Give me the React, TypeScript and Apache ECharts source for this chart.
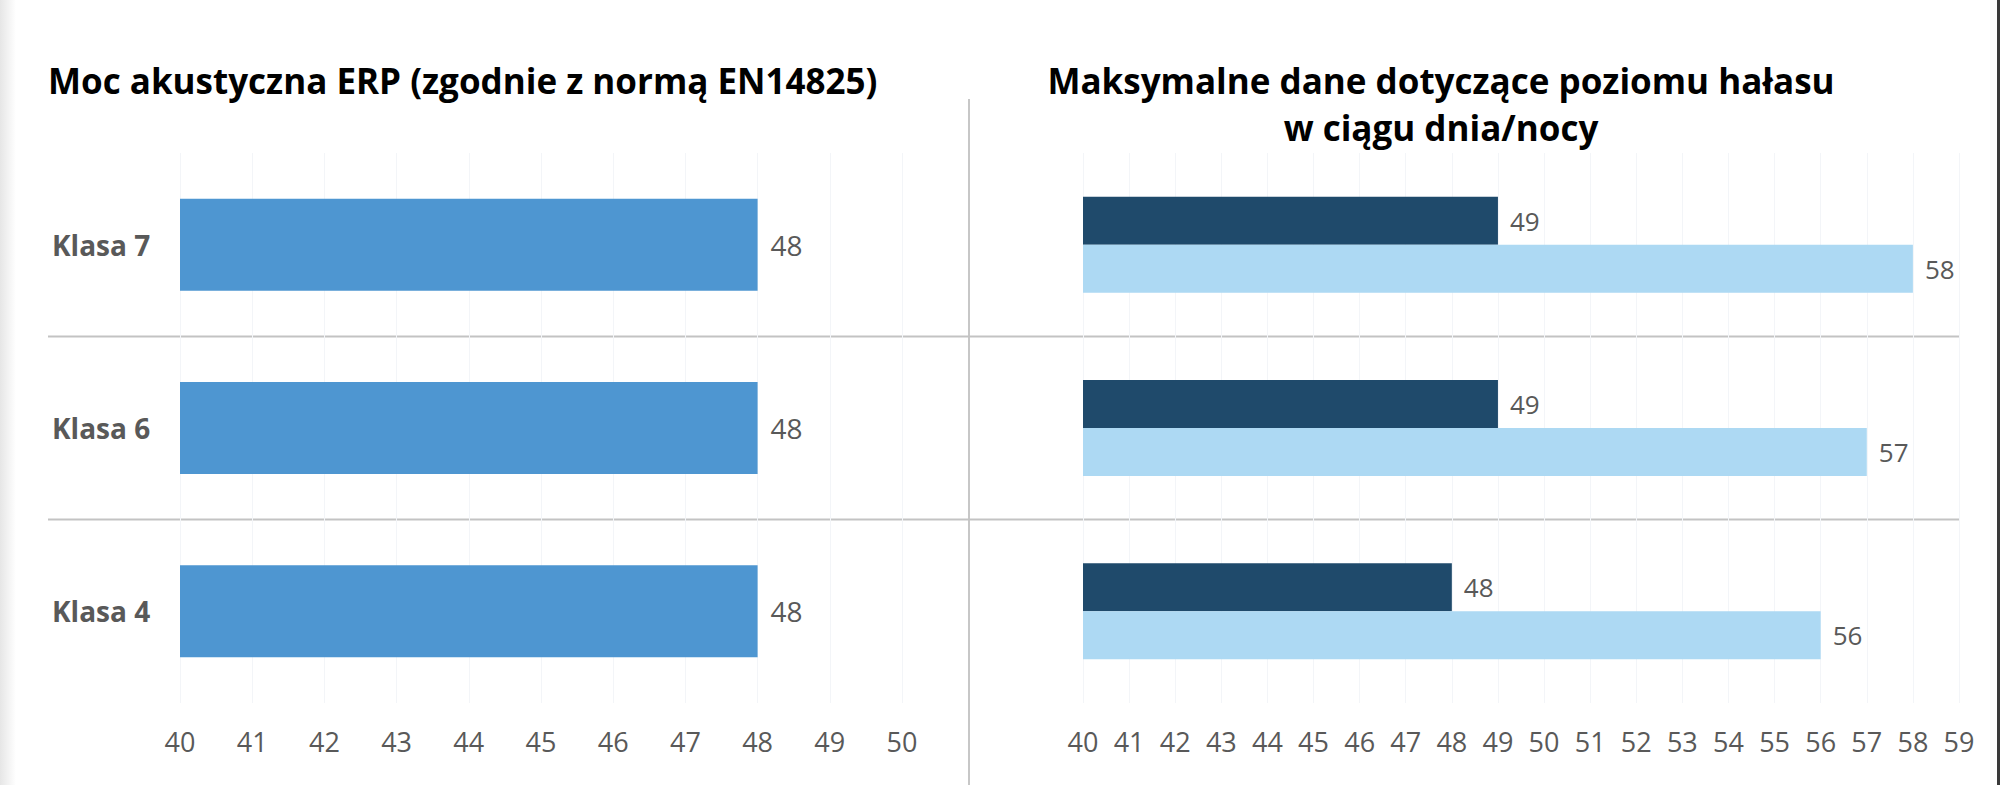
import React, { useEffect, useRef } from 'react';
import * as echarts from 'echarts';

const categories = ['Klasa 7', 'Klasa 6', 'Klasa 4'];
const erpPower = [48, 48, 48];
const noiseNight = [49, 49, 48];
const noiseDay = [58, 57, 56];
const leftAxisRange = [40, 50];
const rightAxisRange = [40, 59];
const leftTitle = 'Moc akustyczna ERP (zgodnie z normą EN14825)';
const rightTitle = 'Maksymalne dane dotyczące poziomu hałasu\nw ciągu dnia/nocy';

const FONT = '"Open Sans", "Noto Sans", sans-serif';
const GRAY = '#595959';

export default function App() {
  const ref = useRef<HTMLDivElement>(null);
  useEffect(() => {
    if (!ref.current) return;
    const chart = echarts.init(ref.current, undefined, { renderer: 'svg' });
    const valueAxis = (gridIndex: number, range: number[]) => ({
      gridIndex,
      type: 'value',
      min: range[0],
      max: range[1],
      interval: 1,
      axisLine: { show: false },
      axisTick: { show: false },
      splitLine: { show: true, lineStyle: { color: '#F3F5F8', width: 1 } },
      axisLabel: { fontSize: 27, color: GRAY, margin: 25, fontFamily: FONT },
    });
    const valueLabel = (size: number, dist: number) => ({
      show: true,
      position: 'right',
      distance: dist,
      fontSize: size,
      color: GRAY,
      fontFamily: FONT,
    });
    chart.setOption({
      animation: false,
      backgroundColor: '#ffffff',
      textStyle: { fontFamily: FONT },
      grid: [
        { left: 180, top: 153, width: 722, height: 550 },
        { left: 1083, top: 153, width: 876, height: 550 },
      ],
      xAxis: [valueAxis(0, leftAxisRange), valueAxis(1, rightAxisRange)],
      yAxis: [
        {
          gridIndex: 0,
          type: 'category',
          data: categories,
          inverse: true,
          axisLine: { show: false },
          axisTick: { show: false },
          splitLine: { show: false },
          axisLabel: {
            align: 'left',
            margin: 128,
            fontSize: 28,
            fontWeight: 'bold',
            color: GRAY,
            fontFamily: FONT,
          },
        },
        {
          gridIndex: 1,
          type: 'category',
          data: categories,
          inverse: true,
          axisLine: { show: false },
          axisTick: { show: false },
          splitLine: { show: false },
          axisLabel: { show: false },
        },
      ],
      series: [
        {
          type: 'bar',
          xAxisIndex: 0,
          yAxisIndex: 0,
          data: erpPower,
          barWidth: 92,
          itemStyle: { color: '#4E96D1' },
          label: valueLabel(28, 13),
        },
        {
          type: 'bar',
          xAxisIndex: 1,
          yAxisIndex: 1,
          data: noiseNight,
          barWidth: 48,
          barGap: '0%',
          itemStyle: { color: '#1F4A6B' },
          label: valueLabel(26, 12),
        },
        {
          type: 'bar',
          xAxisIndex: 1,
          yAxisIndex: 1,
          data: noiseDay,
          barWidth: 48,
          barGap: '0%',
          itemStyle: { color: '#ADD9F3' },
          label: valueLabel(26, 12),
        },
      ],
      graphic: [
        {
          type: 'rect',
          shape: { x: 0, y: 0, width: 16, height: 785 },
          style: {
            fill: new echarts.graphic.LinearGradient(0, 0, 1, 0, [
              { offset: 0, color: '#E6E6E6' },
              { offset: 1, color: '#FFFFFF' },
            ]),
          },
          silent: true,
        },
        {
          type: 'rect',
          shape: { x: 1997, y: 0, width: 3, height: 785 },
          style: { fill: '#3A3A3A' },
          silent: true,
        },
        {
          type: 'line',
          shape: { x1: 969, y1: 99, x2: 969, y2: 785 },
          style: { stroke: '#B4B4B4', lineWidth: 1.5 },
          silent: true,
        },
        {
          type: 'line',
          shape: { x1: 48, y1: 336.5, x2: 1960, y2: 336.5 },
          style: { stroke: '#C3C3C3', lineWidth: 2 },
          silent: true,
        },
        {
          type: 'line',
          shape: { x1: 48, y1: 519.5, x2: 1960, y2: 519.5 },
          style: { stroke: '#C3C3C3', lineWidth: 2 },
          silent: true,
        },
        {
          type: 'text',
          x: 48,
          y: 80,
          style: {
            text: leftTitle,
            fontSize: 35,
            fontWeight: 'bold',
            fontFamily: FONT,
            fill: '#000000',
            align: 'left',
            verticalAlign: 'middle',
          },
        },
        {
          type: 'text',
          x: 1441,
          y: 103.5,
          style: {
            text: rightTitle,
            fontSize: 35,
            lineHeight: 47,
            fontWeight: 'bold',
            fontFamily: FONT,
            fill: '#000000',
            align: 'center',
            verticalAlign: 'middle',
          },
        },
      ],
    });
    return () => chart.dispose();
  }, []);
  return (
    <div
      ref={ref}
      style={{ position: 'fixed', left: 0, top: 0, width: 2000, height: 785 }}
    />
  );
}
